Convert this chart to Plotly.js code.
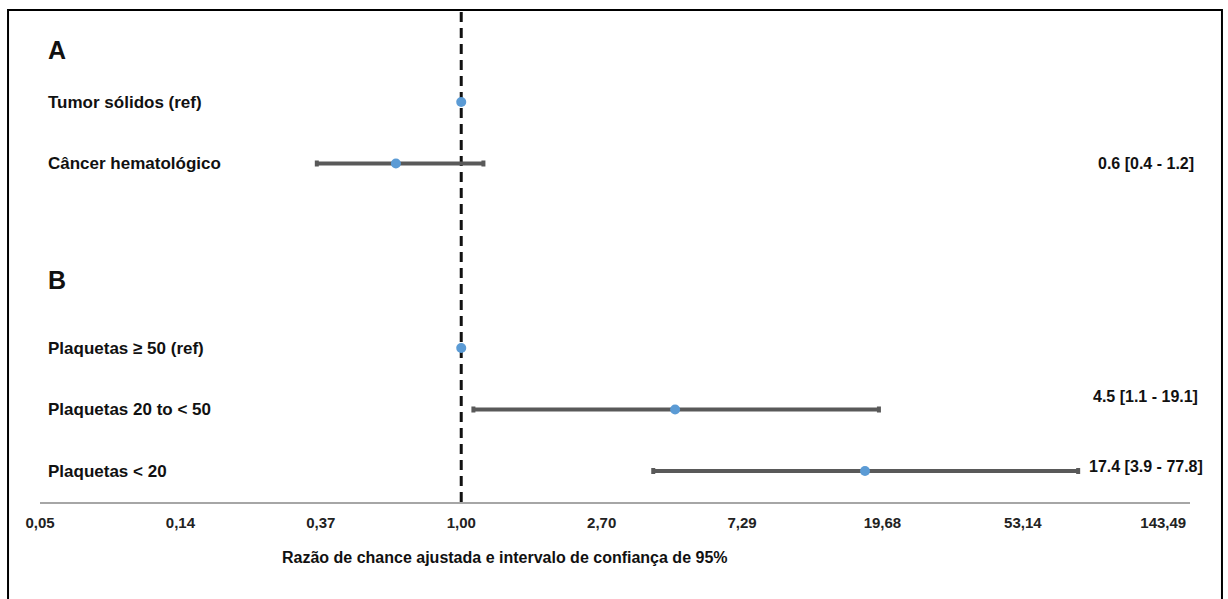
<!DOCTYPE html>
<html>
<head>
<meta charset="utf-8">
<script src="https://cdn.plot.ly/plotly-3.0.1.min.js"></script>
<style>html,body{margin:0;padding:0;background:#fff}#chart{width:1228px;height:599px}</style>
</head>
<body>
<div id="chart"></div>
<script>
// ---- data ----
const rowLabels = ["Tumor sólidos (ref)", "Câncer hematológico", "Plaquetas ≥ 50 (ref)", "Plaquetas 20 to < 50", "Plaquetas < 20"];
const rowPos = [1, 2, 5, 6, 7];
const orValues = [1, 0.63, 1, 4.54, 17.4];
const ciLower = [null, 0.36, null, 1.09, 3.89];
const ciUpper = [null, 1.17, null, 19.2, 78.6];
const estLabels = ["", "0.6 [0.4 - 1.2]", "", "4.5 [1.1 - 19.1]", "17.4 [3.9 - 77.8]"];
const groupLabels = ["A", "B"];
const groupPos = [0.15, 3.9];
const tickVals = [0.0508, 0.1372, 0.3704, 1, 2.7, 7.29, 19.683, 53.144, 143.489];
const tickText = ["0,05", "0,14", "0,37", "1,00", "2,70", "7,29", "19,68", "53,14", "143,49"];
const axisTitle = "Razão de chance ajustada e intervalo de confiança de 95%";
const refValue = 1;

// ---- styles ----
const estYShift = [0, 0, 0, 13, 5];
const FONT = "Liberation Sans, Arial, sans-serif";

const ciIdx = orValues.map((v, i) => i).filter(i => ciLower[i] !== null);
const refIdx = orValues.map((v, i) => i).filter(i => ciLower[i] === null);

const traces = [
  {
    type: "scatter", mode: "markers",
    x: ciIdx.map(i => orValues[i]),
    y: ciIdx.map(i => rowPos[i]),
    error_x: {
      type: "data", symmetric: false,
      array: ciIdx.map(i => ciUpper[i] - orValues[i]),
      arrayminus: ciIdx.map(i => orValues[i] - ciLower[i]),
      color: "#595959", thickness: 4, width: 3
    },
    marker: {color: "#5b9bd5", size: 10},
    hoverinfo: "x+y"
  },
  {
    type: "scatter", mode: "markers",
    x: refIdx.map(i => orValues[i]),
    y: refIdx.map(i => rowPos[i]),
    marker: {color: "#5b9bd5", size: 10},
    hoverinfo: "x+y"
  }
];

const annotations = [];
rowLabels.forEach((t, i) => {
  annotations.push({
    text: t, xref: "paper", yref: "y", x: 0.0055, y: rowPos[i],
    xanchor: "left", yanchor: "middle", showarrow: false,
    font: {family: FONT, size: 17, color: "#111", weight: "bold"}
  });
  if (estLabels[i]) {
    annotations.push({
      text: estLabels[i], xref: "paper", yref: "y", x: 0.9617, y: rowPos[i],
      yshift: estYShift[i],
      xanchor: "center", yanchor: "middle", showarrow: false,
      font: {family: FONT, size: 16, color: "#111", weight: "bold"}
    });
  }
});
groupLabels.forEach((t, i) => {
  annotations.push({
    text: t, xref: "paper", yref: "y", x: 0.0055, y: groupPos[i],
    xanchor: "left", yanchor: "middle", showarrow: false,
    font: {family: FONT, size: 25, color: "#111", weight: "bold"}
  });
});
annotations.push({
  text: axisTitle, xref: "paper", yref: "paper", x: 0.4043, y: -0.112,
  xanchor: "center", yanchor: "middle", showarrow: false,
  font: {family: FONT, size: 16, color: "#111", weight: "bold"}
});

const layout = {
  width: 1228, height: 599,
  margin: {l: 40, r: 38, t: 10, b: 97},
  paper_bgcolor: "#fff", plot_bgcolor: "#fff",
  showlegend: false,
  xaxis: {
    type: "log",
    range: [Math.log10(tickVals[0]), 2.239],
    tickvals: tickVals, ticktext: tickText,
    showgrid: false, zeroline: false,
    showline: true, linecolor: "#a6a6a6", linewidth: 2,
    ticks: "", ticklabelstandoff: 6,
    tickfont: {family: FONT, size: 15, color: "#222", weight: "bold"}
  },
  yaxis: {
    range: [7.504, -0.496],
    showgrid: false, zeroline: false, showline: false,
    showticklabels: false, ticks: ""
  },
  shapes: [
    {type: "line", xref: "x", yref: "paper", x0: refValue, x1: refValue, y0: 0, y1: 1,
     line: {color: "#111", width: 3, dash: "10px,6px"}, layer: "below"},
    {type: "rect", xref: "paper", yref: "paper",
     x0: -0.0278, x1: 1.0278, y0: -0.25, y1: 1,
     line: {color: "#000", width: 2}, fillcolor: "rgba(0,0,0,0)"}
  ],
  annotations: annotations
};

Plotly.newPlot("chart", traces, layout, {displayModeBar: false, staticPlot: true});
</script>
</body>
</html>
